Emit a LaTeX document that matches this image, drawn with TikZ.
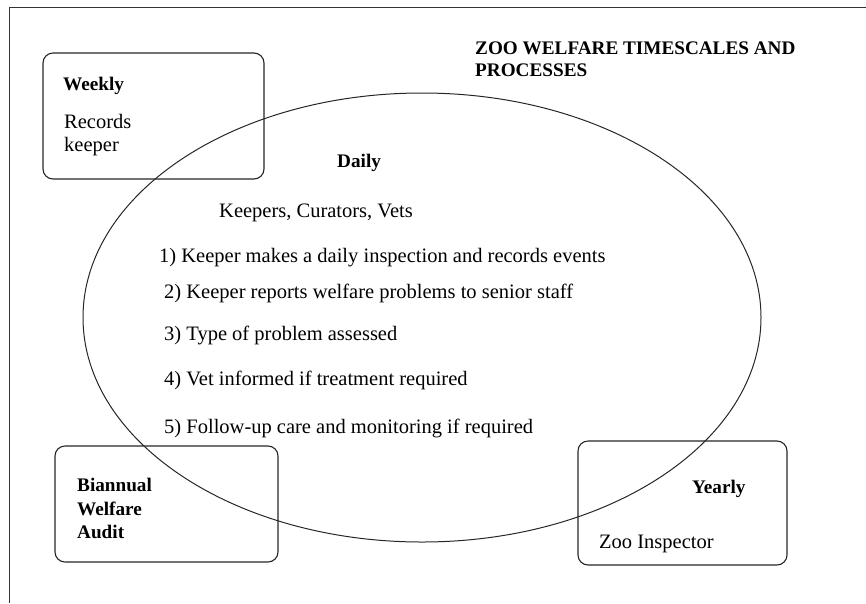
\documentclass[tikz,border=0pt]{standalone}
\usepackage{fontspec}
\setmainfont{Liberation Serif}
\usetikzlibrary{shapes.geometric}
\begin{document}
\begin{tikzpicture}[x=1pt,y=-1pt,
  frame/.style={draw=black!80,line width=0.9pt},
  tbox/.style={draw=black!85,line width=1.1pt,rounded corners=10pt},
  oval/.style={draw=black!85,line width=1pt},
  txt/.style={anchor=base west,inner sep=0pt,font=\fontsize{20.5}{23}\selectfont},
  btxt/.style={anchor=base west,inner sep=0pt,font=\fontsize{19.2}{23}\selectfont\bfseries}]
\useasboundingbox (0,0) rectangle (866,603);
% frame (top and left sides)
\coordinate (ftl) at (9,7);
\coordinate (ftr) at (866,7);
\coordinate (fbl) at (9,603);
\draw[frame] (ftr) -- (ftl) -- (fbl);
% ellipse
\node[oval,ellipse,minimum width=678pt,minimum height=449pt,inner sep=0pt] (daily) at (422,317.5) {};
% boxes
\draw[tbox] (43,53) rectangle (264,179);
\draw[tbox] (55,446) rectangle (278,562);
\draw[tbox] (578,441) rectangle (787,565);
% title
\node[btxt] (t1) at (475,54) {ZOO WELFARE TIMESCALES AND};
\node[btxt] (t2) at (475,76) {PROCESSES};
% weekly
\node[btxt] (wk) at (63,90) {Weekly};
\node[txt] (wk1) at (64,128) {Records};
\node[txt] (wk2) at (64,151) {keeper};
% daily
\node[btxt] (dl) at (337,167) {Daily};
\node[txt] (kc) at (219,217) {Keepers, Curators, Vets};
\node[txt] (s1) at (159,262) {1) Keeper makes a daily inspection and records events};
\node[txt] (s2) at (164,298) {2) Keeper reports welfare problems to senior staff};
\node[txt] (s3) at (164,340) {3) Type of problem assessed};
\node[txt] (s4) at (164,385) {4) Vet informed if treatment required};
\node[txt] (s5) at (164,433) {5) Follow-up care and monitoring if required};
% biannual
\node[btxt] (b1) at (77,491) {Biannual};
\node[btxt] (b2) at (77,515) {Welfare};
\node[btxt] (b3) at (77,538) {Audit};
% yearly
\node[btxt] (yr) at (692,493) {Yearly};
\node[txt] (zi) at (599,548) {Zoo Inspector};
\end{tikzpicture}
\end{document}
